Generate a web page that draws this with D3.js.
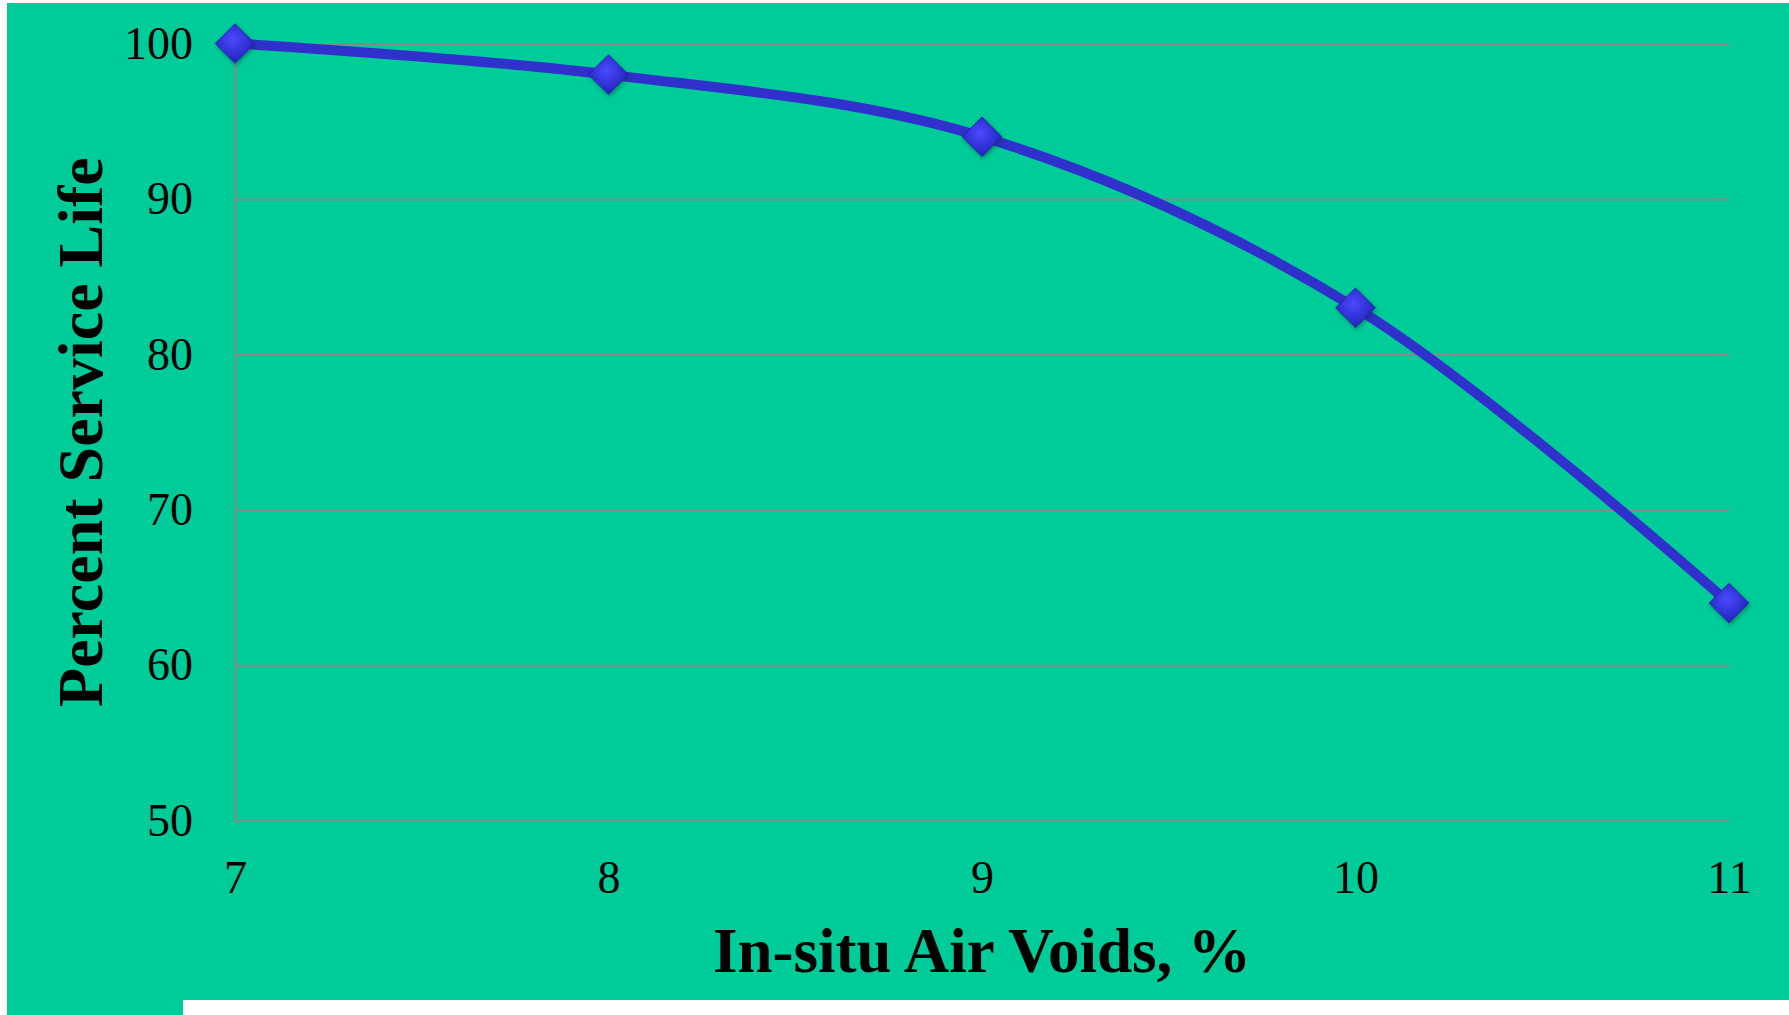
<!DOCTYPE html>
<html>
<head>
<meta charset="utf-8">
<script src="https://cdn.jsdelivr.net/npm/d3@7"></script>
<style>
  body { margin: 0; background: #fff; }
  svg text { font-family: "Liberation Serif", "Times New Roman", serif; fill: #000; }
</style>
</head>
<body>
<svg id="chart" width="1789" height="1015"></svg>
<script>
// data
const airVoids = [7, 8, 9, 10, 11];
const serviceLife = [100, 98, 94, 83, 64];
const yTicks = [50, 60, 70, 80, 90, 100];
const xTicks = [7, 8, 9, 10, 11];

const svg = d3.select("#chart"),
    margin = {top: 43.5, right: 60, bottom: 194.3, left: 235},
    width = +svg.attr("width") - margin.left - margin.right,
    height = +svg.attr("height") - margin.top - margin.bottom;

const green = "#00cc99";

// background panel (with the little tab at bottom-left)
svg.append("rect").attr("x", 7).attr("y", 3).attr("width", 1782).attr("height", 997).attr("fill", green);
svg.append("rect").attr("x", 7).attr("y", 999).attr("width", 176).attr("height", 16).attr("fill", green);

const defs = svg.append("defs");
const grad = defs.append("radialGradient").attr("id", "dia").attr("cx", "45%").attr("cy", "40%").attr("r", "60%");
grad.append("stop").attr("offset", "0%").attr("stop-color", "#4a4aff");
grad.append("stop").attr("offset", "100%").attr("stop-color", "#2222bb");
const shadow = defs.append("filter").attr("id", "shadow").attr("x", "-50%").attr("y", "-50%").attr("width", "200%").attr("height", "200%");
shadow.append("feDropShadow").attr("dx", 1).attr("dy", 2).attr("stdDeviation", 2)
    .attr("flood-color", "#003322").attr("flood-opacity", 0.45);

const g = svg.append("g").attr("transform", `translate(${margin.left},${margin.top})`);

const x = d3.scaleLinear().range([0, width]).domain([7, 11]);
const y = d3.scaleLinear().range([height, 0]).domain([50, 100]);

// y axis + gridlines
const yAxis = g.append("g")
    .attr("class", "y-axis")
    .call(d3.axisLeft(y).tickValues(yTicks).tickSize(-width).tickSizeOuter(0).tickPadding(42));
yAxis.select(".domain").attr("stroke", "#888").attr("stroke-width", 2);
yAxis.selectAll(".tick line").attr("stroke", "#888").attr("stroke-width", 2);
yAxis.selectAll(".tick text").attr("font-size", 46).style("font-family", "'Liberation Serif', serif");

// x axis labels
const xAxis = g.append("g")
    .attr("class", "x-axis")
    .attr("transform", `translate(0, ${height})`)
    .call(d3.axisBottom(x).tickValues(xTicks).tickFormat(d3.format("d")).tickSize(0));
xAxis.select(".domain").remove();
xAxis.selectAll(".tick text")
    .attr("y", 72)
    .attr("dy", 0)
    .attr("font-size", 46)
    .style("font-family", "'Liberation Serif', serif");

// axis titles
g.append("text")
    .attr("class", "x-label")
    .attr("x", width / 2)
    .attr("y", 972 - margin.top)
    .attr("text-anchor", "middle")
    .attr("font-size", 63)
    .attr("font-weight", "bold")
    .text("In-situ Air Voids, %");

g.append("text")
    .attr("class", "y-label")
    .attr("x", -height / 2)
    .attr("y", 102 - margin.left)
    .attr("transform", "rotate(-90)")
    .attr("text-anchor", "middle")
    .attr("font-size", 64)
    .attr("font-weight", "bold")
    .text("Percent Service Life");

// smoothed line
const pts = airVoids.map((v, i) => ({v, life: serviceLife[i]}));
const line = d3.line()
    .x(d => x(d.v))
    .y(d => y(d.life))
    .curve(d3.curveCatmullRom.alpha(0.5));

g.append("path")
    .datum(pts)
    .attr("fill", "none")
    .attr("stroke", "#3030cc")
    .attr("stroke-width", 10)
    .attr("stroke-linejoin", "round")
    .attr("d", line);

// diamond markers
const diamond = d3.symbol().type(d3.symbolDiamond2).size(1000);
g.selectAll(".marker")
    .data(pts)
    .join("path")
    .attr("class", "marker")
    .attr("transform", d => `translate(${x(d.v)},${y(d.life)})`)
    .attr("d", diamond)
    .attr("fill", "url(#dia)")
    .attr("stroke", "#2020a0")
    .attr("stroke-width", 0.8)
    .attr("filter", "url(#shadow)");
</script>
</body>
</html>
